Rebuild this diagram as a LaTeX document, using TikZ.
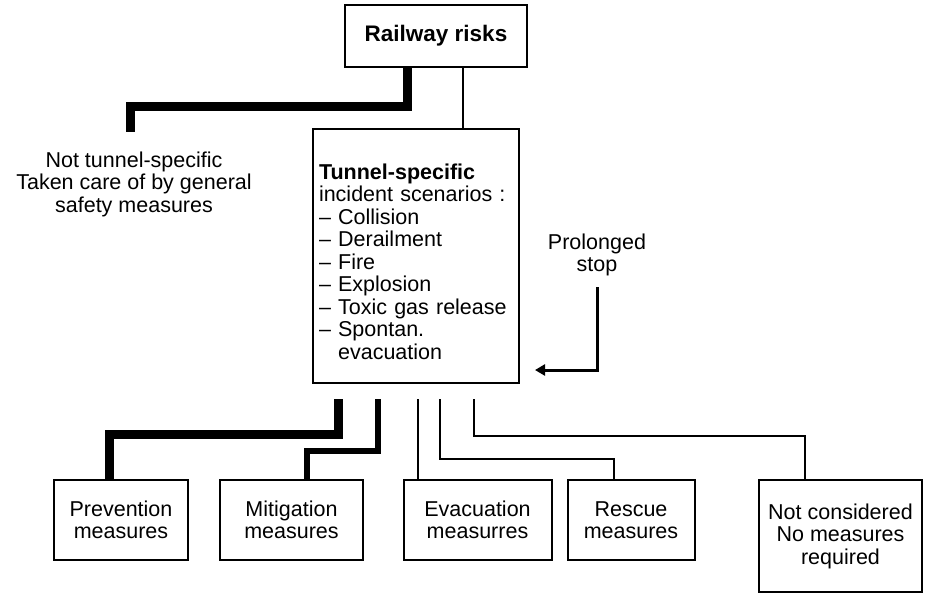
\documentclass[tikz,border=0pt]{standalone}
\usepackage{fontspec}
\setmainfont{Liberation Sans}
\usetikzlibrary{calc, positioning}
\usetikzlibrary{arrows.meta}

\begin{document}
\begin{tikzpicture}[x=1pt, y=-1pt,
  box/.style={draw, line width=2pt, inner sep=6pt, align=center, font=\fontsize{21.5}{22.5}\selectfont},
  plain/.style={inner sep=0pt, align=center, font=\fontsize{21.5}{22.5}\selectfont},
  heavy/.style={line width=9pt},
  medium/.style={line width=6pt},
  light/.style={line width=2pt},
  stoparrow/.style={line width=3pt, -{Triangle[length=10pt, width=11pt]}}]
\useasboundingbox (0,0) rectangle (929,606);

\node[box, minimum width=182pt, minimum height=62pt, font=\fontsize{22.5}{23}\selectfont] (risks) at (436,36) {\textbf{Railway risks}};
\node[box, align=left, text width=194pt, minimum height=254pt] (tunnel) at (416,256)
  {\rule{0pt}{27pt}\textbf{Tunnel-specific}\\ incident scenarios :\\ – Collision\\ – Derailment\\ – Fire\\
   – Explosion\\ – Toxic gas release\\ – Spontan.\\ \phantom{– }evacuation};
\node[plain] (general) at (134,184) {Not tunnel-specific\\ Taken care of by general\\ safety measures};
\node[plain] (prolonged) at (597,255) {Prolonged\\ stop};

\node[box, minimum width=134pt, minimum height=80pt] (prev) at (121,520) {Prevention\\ measures};
\node[box, minimum width=143pt, minimum height=80pt] (mitig) at (291.5,520) {Mitigation\\ measures};
\node[box, minimum width=148pt, minimum height=80pt] (evac) at (477.5,520) {Evacuation\\ measurres};
\node[box, minimum width=127pt, minimum height=80pt] (rescue) at (631,520) {Rescue\\ measures};
\node[box, minimum width=163pt, minimum height=112pt] (notcons) at (840.5,536) {Not considered\\ No measures\\ required};

\coordinate (gtop) at (130,132);
\coordinate (stop) at (597,287);
\coordinate (tip) at (535,370);
\coordinate (t1) at ([shift={(-78,15)}]tunnel.south);
\coordinate (t2) at ([shift={(-38,15)}]tunnel.south);
\coordinate (t3) at ([shift={(2,15)}]tunnel.south);
\coordinate (t4) at ([shift={(24,15)}]tunnel.south);
\coordinate (t5) at ([shift={(58,15)}]tunnel.south);

\draw[heavy] ([xshift=-29pt]risks.south) -- ++(0,38) -| (gtop);
\draw[light] ([xshift=27pt]risks.south) -- ([xshift=27pt]risks.south |- tunnel.north);
\draw[stoparrow] (stop) |- (tip);

\draw[heavy] (t1) -- ++(0,35) -| ([xshift=-12pt]prev.north);
\draw[medium] (t2) -- ++(0,52) -| ([xshift=15pt]mitig.north);
\draw[light] (t3) -- (t3 |- evac.north);
\draw[light] (t4) -- ++(0,60) -| ([xshift=-17pt]rescue.north);
\draw[light] (t5) -- ++(0,37) -| ([xshift=-35.5pt]notcons.north);
\end{tikzpicture}
\end{document}
